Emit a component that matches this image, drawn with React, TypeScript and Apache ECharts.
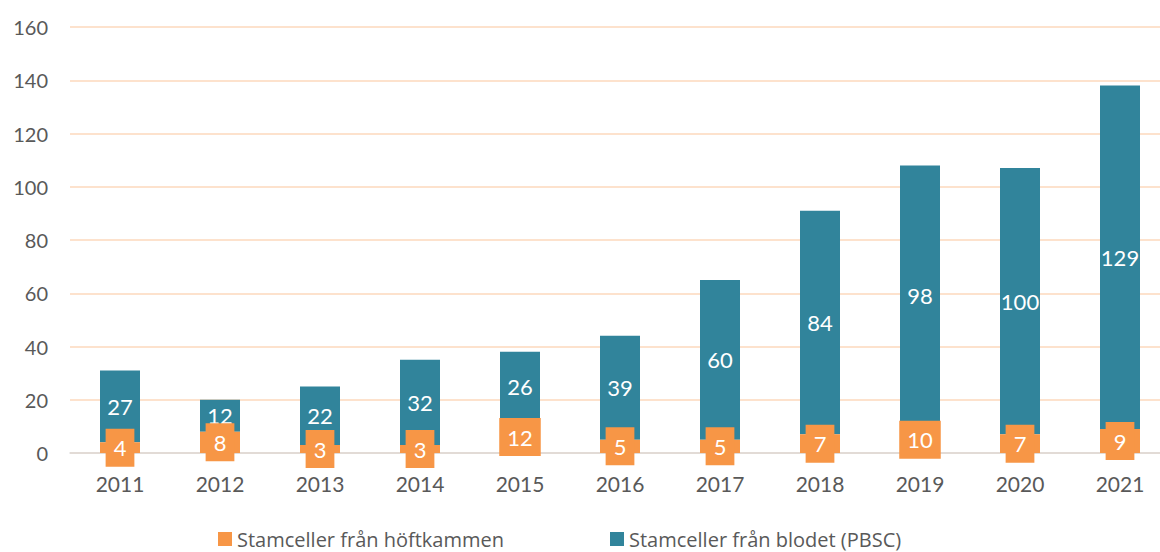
import React, { useEffect, useRef } from "react";
import * as echarts from "echarts";

const years = ["2011", "2012", "2013", "2014", "2015", "2016", "2017", "2018", "2019", "2020", "2021"];
const hoftkammen = [4, 8, 3, 3, 12, 5, 5, 7, 10, 7, 9];
const blodet = [27, 12, 22, 32, 26, 39, 60, 84, 98, 100, 129];
const seriesNames = ["Stamceller från höftkammen", "Stamceller från blodet (PBSC)"];

const FONT = "Lato, 'Open Sans', sans-serif";
const LEGEND_FONT = "'Open Sans', Lato, sans-serif";

export default function App() {
  const ref = useRef<HTMLDivElement>(null);
  useEffect(() => {
    document.body.style.margin = "0";
    const chart = echarts.init(ref.current!, null, { renderer: "svg" });
    chart.setOption({
      animation: false,
      textStyle: { fontFamily: FONT },
      grid: { left: 70, top: 27, width: 1100, height: 426, outerBoundsMode: "none", containLabel: false },
      legend: {
        data: seriesNames,
        top: 529,
        left: 218,
        itemGap: 106,
        itemWidth: 14,
        itemHeight: 14,
        padding: 0,
        icon: "rect",
        textStyle: { fontSize: 20, lineHeight: 20, color: "#595959", fontFamily: LEGEND_FONT },
      },
      xAxis: {
        type: "category",
        data: years,
        axisLine: { lineStyle: { color: "#d9d9d9", width: 1.5 } },
        axisTick: { show: false },
        axisLabel: { fontSize: 21, color: "#595959", margin: 20, fontFamily: FONT },
      },
      yAxis: {
        type: "value",
        min: 0,
        max: 160,
        interval: 20,
        axisLine: { show: false },
        axisTick: { show: false },
        axisLabel: { fontSize: 20, color: "#595959", margin: 22, fontFamily: FONT },
        splitLine: { lineStyle: { color: "#FCD9BD", width: 1.5 } },
      },
      series: [
        {
          name: seriesNames[0],
          type: "bar",
          stack: "total",
          data: hoftkammen,
          barWidth: 40,
          z: 3,
          itemStyle: { color: "#F79646" },
          label: {
            show: true,
            position: "inside",
            color: "#ffffff",
            fontSize: 22,
            lineHeight: 22,
            fontFamily: FONT,
            backgroundColor: "#F79646",
            padding: [8, 8, 8, 8],
          },
        },
        {
          name: seriesNames[1],
          type: "bar",
          stack: "total",
          data: blodet,
          barWidth: 40,
          z: 2,
          itemStyle: { color: "#31849B" },
          label: {
            show: true,
            position: "inside",
            color: "#ffffff",
            fontSize: 22,
            fontFamily: FONT,
          },
        },
      ],
    });
    return () => chart.dispose();
  }, []);
  return <div ref={ref} style={{ width: 1160, height: 552 }} />;
}
